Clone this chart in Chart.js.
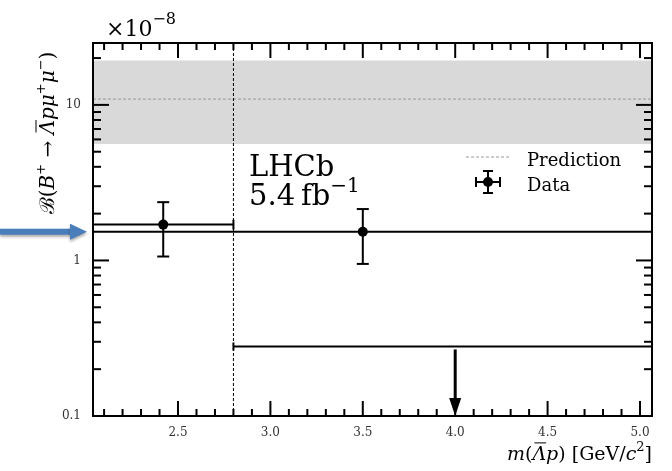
<!DOCTYPE html>
<html>
<head>
<title>B+ to Lambda p mu mu</title>
<style>
  body { margin: 0; background: #fff; }
  #wrap { width: 672px; height: 471px; position: relative; }
</style>
<script src="https://cdn.jsdelivr.net/npm/chart.js"></script>
</head>
<body>
<div id="wrap"><canvas id="chart"></canvas></div>
<script>
// axis ranges and ticks
var xRange = [2.04, 5.065];
var yRange = [0.1, 25];
var xMajorTicks = [2.5, 3.0, 3.5, 4.0, 4.5, 5.0];
var xMinorTicks = [2.1, 2.2, 2.3, 2.4, 2.6, 2.7, 2.8, 2.9, 3.1, 3.2, 3.3, 3.4, 3.6, 3.7, 3.8, 3.9,
                   4.1, 4.2, 4.3, 4.4, 4.6, 4.7, 4.8, 4.9];
var yMajorTicks = [0.1, 1, 10];
var yMinorTicks = [0.2, 0.3, 0.4, 0.5, 0.6, 0.7, 0.8, 0.9, 2, 3, 4, 5, 6, 7, 8, 9, 20];

// prediction
var predCentral = 10.9;
var predBand = [5.61, 19.3];
var threshold = 2.8;

// measured points
var dataX = [2.42, 3.5];
var dataY = [1.70, 1.53];
var dataYLow = [1.06, 0.95];
var dataYHigh = [2.37, 2.14];
var dataXLow = [2.04, 2.04];
var dataXHigh = [2.8, 5.065];

// upper limit in the high-mass bin
var limitX = [2.8, 5.065];
var limitY = 0.28;
var limitArrowX = 4.0;

var SERIF = '"DejaVu Serif", "Liberation Serif", serif';

function font(size, italic) {
    return (italic ? 'italic ' : '') + size + 'px ' + SERIF;
}

// draw a row of text pieces: [text, size, italic, dy, overline]
function drawRuns(ctx, list, x, y, align) {
    var total = 0;
    list.forEach(function(r) {
        ctx.font = font(r[1], r[2]);
        r.w = ctx.measureText(r[0]).width;
        total += r.w;
    });
    var cx = align === 'right' ? x - total : (align === 'center' ? x - total / 2 : x);
    ctx.textAlign = 'left';
    ctx.textBaseline = 'alphabetic';
    list.forEach(function(r) {
        ctx.font = font(r[1], r[2]);
        ctx.fillText(r[0], cx, y + (r[3] || 0));
        if (r[4]) {
            ctx.save();
            ctx.lineWidth = 1;
            ctx.beginPath();
            ctx.moveTo(cx + 2, y - r[1] * 0.9);
            ctx.lineTo(cx + r.w, y - r[1] * 0.9);
            ctx.stroke();
            ctx.restore();
        }
        cx += r.w;
    });
}

function line(ctx, x1, y1, x2, y2) {
    ctx.beginPath();
    ctx.moveTo(x1, y1);
    ctx.lineTo(x2, y2);
    ctx.stroke();
}

var decor = {
    id: 'decor',
    afterDatasetsDraw: function(chart) {
        var ctx = chart.ctx, xs = chart.scales.x, ys = chart.scales.y;
        var a = chart.chartArea;
        ctx.save();
        ctx.strokeStyle = '#000';
        ctx.fillStyle = '#000';
        ctx.lineWidth = 2;
        // error bars
        for (var i = 0; i < dataX.length; i++) {
            var px = xs.getPixelForValue(dataX[i]);
            var py = ys.getPixelForValue(dataY[i]);
            var x1 = xs.getPixelForValue(dataXLow[i]);
            var x2 = xs.getPixelForValue(dataXHigh[i]);
            var y1 = ys.getPixelForValue(dataYLow[i]);
            var y2 = ys.getPixelForValue(dataYHigh[i]);
            line(ctx, x1, py, x2, py);
            line(ctx, x1, py - 5, x1, py + 5);
            line(ctx, x2, py - 5, x2, py + 5);
            line(ctx, px, y1, px, y2);
            line(ctx, px - 6, y1, px + 6, y1);
            line(ctx, px - 6, y2, px + 6, y2);
        }
        // upper limit cap and arrow
        var lx = xs.getPixelForValue(limitX[0]);
        var ly = ys.getPixelForValue(limitY);
        line(ctx, lx, ly - 4, lx, ly + 4);
        var ax = xs.getPixelForValue(limitArrowX);
        ctx.lineWidth = 3;
        line(ctx, ax, ly + 3, ax, a.bottom - 16);
        ctx.beginPath();
        ctx.moveTo(ax - 6, a.bottom - 18);
        ctx.lineTo(ax + 6, a.bottom - 18);
        ctx.lineTo(ax, a.bottom);
        ctx.closePath();
        ctx.fill();
        ctx.restore();
    },
    afterDraw: function(chart) {
        var ctx = chart.ctx, xs = chart.scales.x, ys = chart.scales.y;
        var a = chart.chartArea;
        ctx.save();
        ctx.strokeStyle = '#000';
        ctx.fillStyle = '#000';
        // frame
        ctx.lineWidth = 2;
        ctx.strokeRect(a.left, a.top, a.right - a.left, a.bottom - a.top);
        // inward ticks on all four sides
        xMajorTicks.forEach(function(v) {
            var p = xs.getPixelForValue(v);
            line(ctx, p, a.bottom, p, a.bottom - 15);
            line(ctx, p, a.top, p, a.top + 15);
        });
        xMinorTicks.forEach(function(v) {
            var p = xs.getPixelForValue(v);
            line(ctx, p, a.bottom, p, a.bottom - 7);
            line(ctx, p, a.top, p, a.top + 7);
        });
        yMajorTicks.forEach(function(v) {
            var p = ys.getPixelForValue(v);
            line(ctx, a.left, p, a.left + 16, p);
            line(ctx, a.right, p, a.right - 16, p);
        });
        yMinorTicks.forEach(function(v) {
            var p = ys.getPixelForValue(v);
            line(ctx, a.left, p, a.left + 8, p);
            line(ctx, a.right, p, a.right - 8, p);
        });

        // exponent label
        drawRuns(ctx, [['\u00d710', 22], ['\u22128', 16, false, -12]], 106, 36, 'left');

        // LHCb label
        drawRuns(ctx, [['LHCb', 29]], 249, 176, 'left');
        drawRuns(ctx, [['5.4\u2009fb', 29], ['\u22121', 20, false, -13]], 249, 205, 'left');

        // legend
        ctx.save();
        ctx.strokeStyle = '#999';
        ctx.lineWidth = 1;
        ctx.setLineDash([3, 2]);
        line(ctx, 466, 157, 511, 157);
        ctx.restore();
        drawRuns(ctx, [['Prediction', 18]], 527, 166, 'left');
        var mx = 488, my = 182;
        ctx.lineWidth = 2;
        line(ctx, mx - 12, my, mx + 12, my);
        line(ctx, mx - 12, my - 5, mx - 12, my + 5);
        line(ctx, mx + 12, my - 5, mx + 12, my + 5);
        line(ctx, mx, my - 11, mx, my + 11);
        line(ctx, mx - 5, my - 11, mx + 5, my - 11);
        line(ctx, mx - 5, my + 11, mx + 5, my + 11);
        ctx.beginPath();
        ctx.arc(mx, my, 5, 0, Math.PI * 2);
        ctx.fill();
        drawRuns(ctx, [['Data', 18]], 527, 191, 'left');

        // axis titles
        drawRuns(ctx, [
            ['m', 19, true], ['(', 19], ['\u039b', 19, true, 0, true], ['p', 19, true], [')', 19],
            [' [GeV/', 19], ['c', 19, true], ['2', 13, false, -9], [']', 19]
        ], a.right, 460, 'right');

        ctx.save();
        ctx.translate(54, 133);
        ctx.rotate(-Math.PI / 2);
        drawRuns(ctx, [
            ['\u212c', 20], ['(', 20], ['B', 20, true], ['+', 13, false, -9], [' \u2192 ', 20],
            ['\u039b', 20, true, 0, true], ['p', 20, true], ['\u03bc', 20, true], ['+', 13, false, -9],
            ['\u03bc', 20, true], ['\u2212', 13, false, -9], [')', 20]
        ], 0, 0, 'center');
        ctx.restore();

        // blue pointer arrow in the left margin, aimed at the full-range result
        var by = ys.getPixelForValue(dataY[1]);
        ctx.save();
        ctx.shadowColor = 'rgba(0,0,0,0.35)';
        ctx.shadowBlur = 3;
        ctx.shadowOffsetY = 2;
        ctx.fillStyle = '#4a7ebb';
        ctx.fillRect(0, by - 3, 72, 6);
        ctx.beginPath();
        ctx.moveTo(70, by - 8);
        ctx.lineTo(87, by);
        ctx.lineTo(70, by + 8);
        ctx.closePath();
        ctx.fill();
        ctx.restore();

        ctx.restore();
    }
};

function flat(v) {
    return [{ x: xRange[0], y: v }, { x: xRange[1], y: v }];
}

new Chart(document.getElementById('chart').getContext('2d'), {
    type: 'scatter',
    data: {
        datasets: [
            {
                label: 'band high', data: flat(predBand[1]), showLine: true, pointRadius: 0,
                borderWidth: 0, borderColor: 'rgba(0,0,0,0)', backgroundColor: '#d9d9d9', fill: '+1', order: 10
            },
            {
                label: 'band low', data: flat(predBand[0]), showLine: true, pointRadius: 0,
                borderWidth: 0, borderColor: 'rgba(0,0,0,0)', fill: false, order: 10
            },
            {
                label: 'Prediction', data: flat(predCentral), showLine: true, pointRadius: 0,
                borderWidth: 1, borderColor: '#999', borderDash: [3, 2], order: 8
            },
            {
                label: 'threshold', data: [{ x: threshold, y: yRange[0] }, { x: threshold, y: yRange[1] }],
                showLine: true, pointRadius: 0, borderWidth: 1, borderColor: '#000', borderDash: [3, 2], order: 7
            },
            {
                label: 'limit', data: [{ x: limitX[0], y: limitY }, { x: limitX[1], y: limitY }],
                showLine: true, pointRadius: 0, borderWidth: 2, borderColor: '#000', order: 5
            },
            {
                label: 'Data', data: dataX.map(function(x, i) { return { x: x, y: dataY[i] }; }),
                pointRadius: 5, pointBackgroundColor: '#000', pointBorderWidth: 0, order: 0
            }
        ]
    },
    options: {
        responsive: true,
        maintainAspectRatio: false,
        animation: false,
        layout: { padding: { left: 0, right: 20, top: 43, bottom: 0 } },
        plugins: { legend: { display: false }, tooltip: { enabled: false } },
        scales: {
            x: {
                type: 'linear', min: xRange[0], max: xRange[1],
                grid: { display: false, drawTicks: false },
                border: { display: false },
                afterBuildTicks: function(s) { s.ticks = xMajorTicks.map(function(v) { return { value: v }; }); },
                afterFit: function(s) { s.height = 55; },
                ticks: {
                    autoSkip: false, maxRotation: 0, padding: 10, color: '#333',
                    font: { family: SERIF, size: 12 },
                    callback: function(v) { return v.toFixed(1); }
                }
            },
            y: {
                type: 'logarithmic', min: yRange[0], max: yRange[1],
                grid: { display: false, drawTicks: false },
                border: { display: false },
                afterBuildTicks: function(s) { s.ticks = yMajorTicks.map(function(v) { return { value: v }; }); },
                afterFit: function(s) { s.width = 93; },
                ticks: {
                    autoSkip: false, padding: 12, color: '#333',
                    font: { family: SERIF, size: 12 },
                    callback: function(v) { return String(v); }
                }
            }
        }
    },
    plugins: [decor]
});
</script>
</body>
</html>
